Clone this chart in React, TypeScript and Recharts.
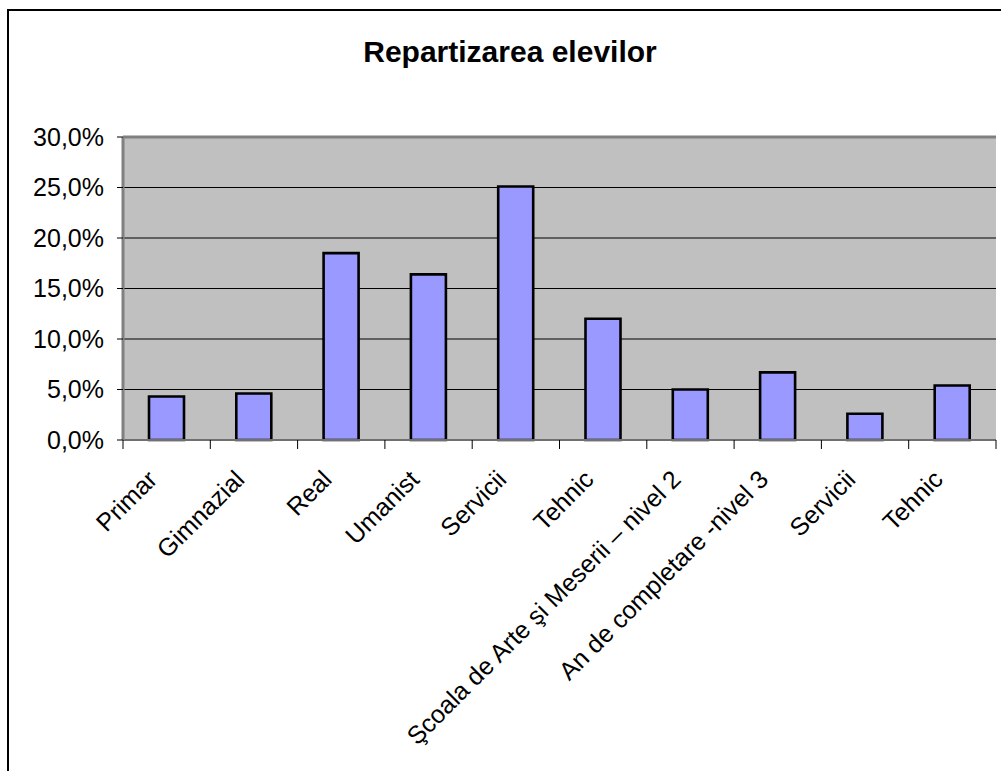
import React from "react";
import { BarChart, Bar, XAxis, YAxis, CartesianGrid, ReferenceLine } from "recharts";

const categories = [
  "Primar",
  "Gimnazial",
  "Real",
  "Umanist",
  "Servicii",
  "Tehnic",
  "Şcoala de Arte şi Meserii – nivel 2",
  "An de completare -nivel 3",
  "Servicii",
  "Tehnic",
];
const shares = [4.3, 4.6, 18.5, 16.4, 25.1, 12.0, 5.0, 6.7, 2.6, 5.4];
const yTicks = [0, 5, 10, 15, 20, 25, 30];

const data = categories.map((name, i) => ({ name, share: shares[i] }));

const FONT = '"Liberation Sans", Arial, sans-serif';
const PLOT_LEFT = 123;
const PLOT_RIGHT = 996;
const halfBand = (PLOT_RIGHT - PLOT_LEFT) / categories.length / 2;

const fmt = (v: number) => v.toFixed(1).replace(".", ",") + "%";

const XTick = (props: any) => {
  const { x, y, payload, index } = props;
  const off = payload && payload.offset ? payload.offset : halfBand;
  const tx = x - 8;
  const ty = y + 41;
  return (
    <g>
      <line x1={x - off} y1={y} x2={x - off} y2={y + 9} stroke="#000" />
      {index === categories.length - 1 && (
        <line x1={x + off} y1={y} x2={x + off} y2={y + 9} stroke="#000" />
      )}
      <text
        x={0}
        y={0}
        transform={`translate(${tx},${ty}) rotate(-45)`}
        textAnchor="end"
        fontSize={25}
        fontFamily={FONT}
        fill="#000"
      >
        {payload.value}
      </text>
    </g>
  );
};

export default function App() {
  return (
    <div style={{ position: "absolute", left: 0, top: 0, width: 1001, height: 771, overflow: "hidden", background: "#fff" }}>
      <div
        style={{
          position: "absolute",
          left: 7,
          top: 9,
          width: 1200,
          height: 1000,
          borderLeft: "2px solid #000",
          borderTop: "2px solid #000",
        }}
      />
      <div
        style={{
          position: "absolute",
          left: 510,
          top: 37,
          transform: "translateX(-50%)",
          fontFamily: FONT,
          fontWeight: "bold",
          fontSize: 30,
          lineHeight: "30px",
          whiteSpace: "nowrap",
          color: "#000",
        }}
      >
        Repartizarea elevilor
      </div>
      <div style={{ position: "absolute", left: 0, top: 0 }}>
        <BarChart
          width={1001}
          height={771}
          data={data}
          barSize={35}
          margin={{ top: 137, right: 5, left: 0, bottom: 301 }}
        >
          <CartesianGrid vertical={false} stroke="#000" fill="#C0C0C0" fillOpacity={1} />
          <XAxis
            dataKey="name"
            height={30}
            tickSize={0}
            tickMargin={0}
            tickLine={false}
            interval={0}
            axisLine={{ stroke: "#707070", strokeWidth: 2 }}
            tick={<XTick />}
          />
          <XAxis
            xAxisId="top"
            dataKey="name"
            orientation="top"
            height={0}
            tick={false}
            tickLine={false}
            axisLine={false}
          />
          <YAxis
            width={123}
            domain={[0, 30]}
            ticks={yTicks}
            interval={0}
            tickFormatter={fmt}
            tickSize={6}
            tickMargin={13}
            axisLine={{ stroke: "#808080", strokeWidth: 3 }}
            tickLine={{ stroke: "#000" }}
            tick={{ fill: "#000", fontSize: 25, fontFamily: FONT }}
          />
          <YAxis
            yAxisId="r"
            orientation="right"
            width={0}
            domain={[0, 30]}
            tick={false}
            tickLine={false}
            axisLine={{ stroke: "#808080", strokeWidth: 3 }}
          />
          <ReferenceLine y={30} stroke="#808080" strokeWidth={3} />
          <Bar dataKey="share" fill="#9999FF" stroke="#000" strokeWidth={2.6} isAnimationActive={false} />
        </BarChart>
      </div>
    </div>
  );
}
